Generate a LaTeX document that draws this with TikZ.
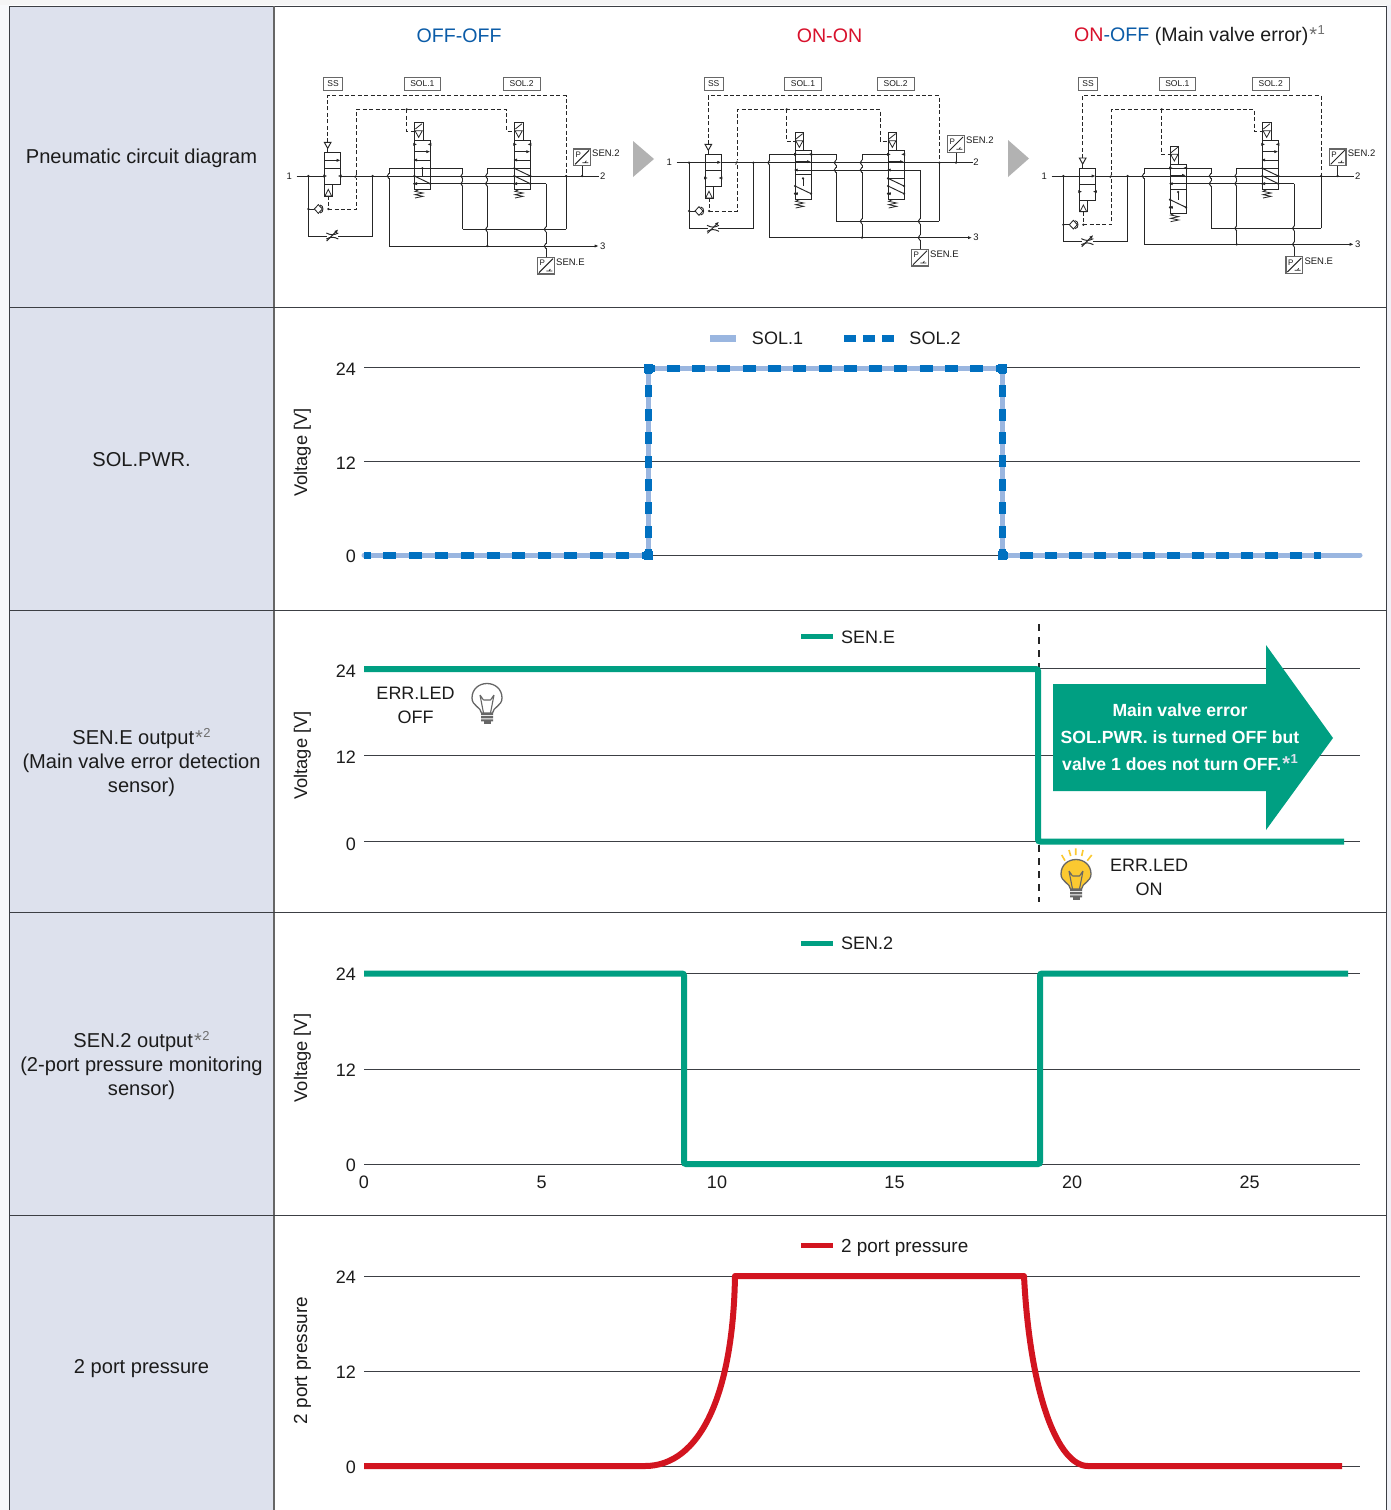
\documentclass[tikz,border=0pt]{standalone}
\usepackage{fontspec}
\setmainfont{Liberation Sans}
\usetikzlibrary{arrows.meta,calc}
\definecolor{hdr}{HTML}{DDE1ED}
\definecolor{txt}{HTML}{1C1C1C}
\definecolor{rule}{HTML}{3C3F44}
\definecolor{cblue}{HTML}{0B5CA8}
\definecolor{cred}{HTML}{D8112C}
\definecolor{astg}{HTML}{6E6E6E}
\definecolor{sola}{HTML}{9AB6E0}
\definecolor{solb}{HTML}{0070C0}
\definecolor{teal}{HTML}{009F82}
\definecolor{redl}{HTML}{D2141F}
\definecolor{pipec}{HTML}{262626}
\definecolor{bulbg}{HTML}{666666}
\definecolor{bulby}{HTML}{FBC931}
\tikzset{
  rowlab/.style={font=\fontsize{20.1}{24}\selectfont,text=txt,align=center,inner sep=0pt},
  ticklab/.style={font=\fontsize{18}{20}\selectfont,text=txt,inner sep=0pt},
  axlab/.style={font=\fontsize{18.3}{20}\selectfont,text=txt,inner sep=0pt,rotate=90},
  leglab/.style={font=\fontsize{18}{20}\selectfont,text=txt,inner sep=0pt},
  gridl/.style={draw=rule,line width=0.9pt},
  tline/.style={draw=rule,line width=1pt},
  pipe/.style={draw=pipec,line width=0.95pt},
  pdash/.style={draw=pipec,line width=1pt,dash pattern=on 4pt off 2.4pt},
  pbox/.style={draw=pipec!70,line width=0.9pt,font=\fontsize{8.5}{10}\selectfont,text=txt,inner sep=0pt,minimum height=12.6pt},
  psmall/.style={font=\fontsize{9.5}{11}\selectfont,text=txt,inner sep=0pt},
  ptip/.style={-{Latex[length=4pt,width=3.2pt]}},
  title/.style={font=\fontsize{19.6}{24}\selectfont,inner sep=0pt},
}
\newcommand{\astnote}[2][astg]{{\kern1pt\textcolor{#1}{\fontsize{20}{20}\selectfont *\kern0.5pt\raisebox{6.5pt}{\fontsize{13}{13}\selectfont #2}}}}
\newcommand{\Dot}[2]{\fill[pipec] (#1,#2) circle (1.25pt);}
% vertical-line hop: first wipe, later arc
\newcommand{\HopW}[2]{\draw[white,line width=2.2pt] (#1,#2-7) -- (#1,#2+7);}
\newcommand{\HopA}[2]{\draw[pipe] (#1,#2-8) .. controls (#1-7,#2-4) and (#1-7,#2+4) .. (#1,#2+8);}
\newcommand{\Sensor}[4]{%
  \draw[draw=bulbg,line width=1.2pt,fill=white] (#1,#2) rectangle (#1+50,#2+50);
  \draw[pipe] (#1+4,#2+46) -- (#1+46,#2+4);
  \draw[pipe,line width=0.7pt] (#1+26,#2+41) -- (#1+44,#2+41) (#1+34,#2+41) -- (#1+38,#2+35);
  \node[psmall,font=\fontsize{8}{9}\selectfont] (#4p) at (#1+14,#2+17) {P};
  \node[psmall,anchor=west] (#4l) at (#1+55,#2+14) {#3};}
% valve: x, top, kind (1 or 2), divider offset
\newcommand{\Valve}[4]{%
  \draw[pipe] (#1,#2) rectangle (#1+48,#2+148);
  \draw[pipe,line width=0.8pt] (#1,#2+#4) -- (#1+48,#2+#4);
  \draw[pipe,line width=0.8pt,ptip] (#1,#2+34) -- (#1+48,#2+34);
  \draw[pipe,line width=0.8pt,ptip] (#1+48,#2+59) -- (#1-4,#2+59);
  \draw[pipe,line width=0.7pt,ptip] (#1,#2+12) -- (#1+9,#2+12);
  \draw[pipe,line width=0.7pt,ptip] (#1+48,#2+12) -- (#1+39,#2+12);
  % solenoid
  \draw[pipe] (#1,#2-54) rectangle (#1+26,#2);
  \draw[pipe,line width=0.8pt] (#1+2,#2-29) -- (#1+24,#2-29) -- (#1+13,#2-9) -- cycle;
  \draw[pipe,line width=0.8pt] (#1+3,#2-34) -- (#1+23,#2-50);
  % spring
  \draw[pipe,line width=0.8pt] (#1+13,#2+148) -- (#1+2,#2+153) -- (#1+26,#2+158) -- (#1+2,#2+163) -- (#1+26,#2+168) -- (#1+2,#2+173);
  \Dot{#1}{#2+130}\Dot{#1+48}{#2+130}\Dot{#1}{#2+107}
  \draw[pipe,line width=0.7pt,ptip] (#1+8,#2+130) -- (#1-4,#2+130);
  \draw[pipe] (#1,#2+107) -- (#1+48,#2+130);
  \ifnum#3=1
    \draw[pipe] (#1+24,#2+84) -- (#1+24,#2+107);
    \Dot{#1+24}{#2+84}
  \else
    \draw[pipe] (#1,#2+84) -- (#1+48,#2+107);
    \Dot{#1}{#2+84}\Dot{#1+48}{#2+107}
  \fi}
\newcommand{\CircA}[9]{\def\cM{#1}\def\cA{#2}\def\cB{#3}\def\cL{#4}\def\cR{#5}\def\cSx{#6}\def\cST{#7}\def\cChk{#8}\def\cThr{#9}}
\newcommand{\CircB}[9]{\def\cI{#1}\def\cOR{#2}\def\cPa{#3}\def\cPb{#4}\def\cPc{#5}\def\cPd{#6}\def\cCr{#7}\def\cLo{#8}\def\cVa{#9}}
\newcommand{\CircC}[9]{\def\cTa{#1}\def\cVb{#2}\def\cTb{#3}\def\cEx{#4}\def\cEy{#5}\def\cNx{#6}\def\cNy{#7}\def\cBa{#8}\def\cBb{#9}\DrawCircuit}
\newcommand{\DrawCircuit}{%
  % labels
  \node[pbox,minimum width=19.3pt] (\cid ss) at (\cSx+26,71) {SS};
  \node[pbox,minimum width=36.6pt] (\cid sa) at (\cBa+55,71) {SOL.1};
  \node[pbox,minimum width=36.6pt] (\cid sb) at (\cBb+55,71) {SOL.2};
  \node[psmall] (\cid n1) at (28,\cM) {1};
  \node[psmall] (\cid n2) at (\cOR+110,\cM) {2};
  \node[psmall] (\cid n3) at (\cOR+110,\cLo) {3};
  % dashed pilots
  \draw[pdash] (\cSx+10,\cST-30) -- (\cSx+10,107) -- (\cOR,107) -- (\cOR,\cM);
  \draw[pdash] (\cSx+12,\cST+131) -- (\cSx+12,\cChk) -- (\cI,\cChk) -- (\cI,148) -- (\cVb-24,148) -- (\cVb-24,\cTb-28) -- (\cVb,\cTb-28);
  \draw[pdash] (380,148) -- (380,\cTa-28) -- (\cVa,\cTa-28);
  \Dot{380}{148}
  % vertical pipes
  \draw[pipe] (\cPa,\cLo) -- (\cPa,\cA);
  \draw[pipe] (\cPb,\cA) -- (\cPb,\cCr);
  \draw[pipe] (\cPc,\cLo) -- (\cPc,\cA);
  \draw[pipe] (\cPd,\cB) -- (\cPd,\cEy);
  \draw[pipe] (\cOR,\cCr) -- (\cOR,\cM);
  \draw[pipe] (\cL,\cM) -- (\cL,\cThr) -- (\cR,\cThr) -- (\cR,\cM);
  \HopW{\cPa}{\cM}\HopW{\cPb}{\cM}\HopW{\cPb}{\cB}\HopW{\cPc}{\cM}\HopW{\cPc}{\cB}\HopW{\cPc}{\cCr}\HopW{\cPd}{\cCr}\HopW{\cPd}{\cLo}\HopW{\cI}{\cM}
  % horizontal pipes
  \draw[pipe] (50,\cM) -- (\cOR+100,\cM);
  \draw[pipe] (\cPa,\cA) -- (\cPb,\cA);
  \draw[pipe] (\cPc,\cA) -- (\cVb,\cA);
  \draw[pipe] (\cVa,\cB) -- (\cPd,\cB);
  \draw[pipe] (\cPb,\cCr) -- (\cOR,\cCr);
  \draw[pipe,ptip] (\cPa,\cLo) -- (\cOR+98,\cLo);
  \HopA{\cPa}{\cM}\HopA{\cPb}{\cM}\HopA{\cPb}{\cB}\HopA{\cPc}{\cM}\HopA{\cPc}{\cB}\HopA{\cPc}{\cCr}\HopA{\cPd}{\cCr}\HopA{\cPd}{\cLo}
  \draw[pipe,line width=0.8pt] (\cI-5,\cM+6) -- (\cI,\cM-6);
  \Dot{\cL}{\cM}\Dot{\cR}{\cM}\Dot{\cL}{\cChk}\Dot{\cOR}{\cM}\Dot{\cNx+25}{\cM}\Dot{\cPc}{\cLo}
  % SS valve
  \draw[pipe,fill=white] (\cSx,\cST) rectangle (\cSx+49,\cST+97);
  \draw[pipe,line width=0.8pt] (\cSx,\cST+48) -- (\cSx+49,\cST+48);
  \draw[pipe,line width=0.8pt,ptip] (\cSx,\cST+24) -- (\cSx+49,\cST+24);
  \draw[pipe,line width=0.7pt,ptip] (\cSx,\cST+71) -- (\cSx+9,\cST+71);
  \draw[pipe,line width=0.7pt,ptip] (\cSx+49,\cST+71) -- (\cSx+40,\cST+71);
  \draw[pipe] (\cSx,\cST+97) rectangle (\cSx+24,\cST+131);
  \draw[pipe,line width=0.8pt] (\cSx+2,\cST+131) -- (\cSx+22,\cST+131) -- (\cSx+12,\cST+111) -- cycle;
  \draw[pipe,fill=white] (\cSx,\cST-30) -- (\cSx+20,\cST-30) -- (\cSx+10,\cST-12) -- cycle;
  \draw[pipe] (\cSx+10,\cST-12) -- (\cSx+10,\cST);
  % check valve
  \draw[pipe] (\cL,\cChk) -- (\cL+18,\cChk);
  \draw[pipe,fill=white,line width=0.85pt] (\cL+18,\cChk) -- (\cL+30,\cChk-13) -- (\cL+42,\cChk) -- (\cL+30,\cChk+13) -- cycle;
  \draw[pipe,line width=0.85pt] (\cL+35,\cChk-12) .. controls (\cL+47,\cChk-12) and (\cL+47,\cChk+12) .. (\cL+35,\cChk+12);
  \Dot{\cSx+12}{\cChk}
  % throttle
  \fill[white] (\cSx+8,\cThr-4) rectangle (\cSx+40,\cThr+4);
  \draw[pipe] (\cSx+6,\cThr-9) .. controls (\cSx+20,\cThr-2) and (\cSx+28,\cThr-2) .. (\cSx+42,\cThr-9);
  \draw[pipe] (\cSx+6,\cThr+9) .. controls (\cSx+20,\cThr+2) and (\cSx+28,\cThr+2) .. (\cSx+42,\cThr+9);
  \draw[pipe,ptip] (\cSx+7,\cThr+15) -- (\cSx+42,\cThr-20);
  % main valves
  \Valve{\cVa}{\cTa}{1}{\cDa}
  \Valve{\cVb}{\cTb}{2}{\cDb}
  % sensors
  \draw[pipe] (\cNx+25,\cNy+50) -- (\cNx+25,\cM);
  \Sensor{\cNx}{\cNy}{SEN.2}{\cid nn}
  \Sensor{\cEx}{\cEy}{SEN.E}{\cid ee}
}
\newcommand{\Grid}[5]{% y24 y12 y0 prefix label-offset
  \draw[gridl] (364,#1) -- (1360,#1);
  \draw[gridl] (364,#2) -- (1360,#2);
  \draw[gridl] (364,#3) -- (1360,#3);
  \node[ticklab,anchor=east] (#4t24) at (356,#1+#5) {24};
  \node[ticklab,anchor=east] (#4t12) at (356,#2+#5) {12};
  \node[ticklab,anchor=east] (#4t0) at (356,#3+#5) {0};}
\newcommand{\Bulb}[3]{% cx cy fill
  \begin{scope}[shift={(#1,#2)}]
    \draw[draw=bulbg,line width=1.3pt,fill=#3] (-5.5,14) .. controls (-6,8) and (-15,7) .. (-15,-1) .. controls (-15,-10) and (-8,-15.5) .. (0,-15.5) .. controls (8,-15.5) and (15,-10) .. (15,-1) .. controls (15,7) and (6,8) .. (5.5,14) -- cycle;
    \draw[draw=bulbg,line width=1.1pt] (-7,-4) -- (-3.5,14) (7,-4) -- (3.5,14) (-3.5,1) -- (3.5,1) (-7,-4) -- (-3.5,1) (7,-4) -- (3.5,1);
    \fill[bulbg] (-6,14) rectangle (6,16.2) (-6,17.2) rectangle (6,19.4) (-6,20.4) rectangle (6,22.4);
    \fill[bulbg] (-3.5,22.4) rectangle (3.5,24.6);
  \end{scope}}
\begin{document}
\begin{tikzpicture}[x=1pt,y=-1pt]
\useasboundingbox (0,0) rectangle (1391,1510);
\fill[white] (0,0) rectangle (1391,1510);
\fill[hdr!20] (0,0) rectangle (9,1510);
\fill[hdr!45] (1386,0) rectangle (1391,1510);
\fill[white!92!gray] (0,0) rectangle (1391,5);
% table
\fill[hdr] (9,6) rectangle (274,1510);
\draw[tline] (9,1510) -- (9,6) -- (1386,6) -- (1386,1510);
\draw[draw=bulbg,line width=1.4pt] (274,6) -- (274,1510);
\foreach \yy in {307.5,610,912.5,1215} \draw[tline] (9,\yy) -- (1386,\yy);
% row labels
\node[rowlab] (r1) at (141.5,158.5) {Pneumatic circuit diagram};
\node[rowlab] (r2) at (141.5,460) {SOL.PWR.};
\node[rowlab] (r3) at (141.5,762.5) {SEN.E output\astnote{2}\\(Main valve error detection\\sensor)};
\node[rowlab] (r4) at (141.5,1065.5) {SEN.2 output\astnote{2}\\(2-port pressure monitoring\\sensor)};
\node[rowlab] (r5) at (141.5,1368.5) {2 port pressure};
% titles
\node[title,text=cblue] (t1) at (459,35.5) {OFF-OFF};
\node[title,text=cred] (t2) at (829.5,35.5) {ON-ON};
\node[title,text=txt,anchor=west] (t3) at (1074,35.5) {\textcolor{cred}{ON}\textcolor{cblue}{-OFF} (Main valve error)\astnote{1}};
% circuits
\begin{scope}[shift={(280,60)},x=0.33333pt,y=-0.33333pt]
  \def\cid{a}\def\cDa{84}\def\cDb{84}
  \CircA{348}{325}{371}{85}{278}{133}{277}{447}{528}
  \CircB{230}{858}{327}{548}{622}{798}{508}{558}{403}
  \CircC{241}{703}{241}{773}{592}{881}{267}{372}{670}
\end{scope}
\begin{scope}[shift={(660,60)},x=0.33333pt,y=-0.33333pt]
  \def\cid{b}\def\cDa{72}\def\cDb{84}
  \CircA{308}{283}{330}{87}{280}{135}{283}{453}{505}
  \CircB{232}{838}{329}{528}{606}{780}{484}{533}{405}
  \CircC{271}{684}{271}{755}{568}{863}{227}{374}{652}
\end{scope}
\begin{scope}[shift={(1035,60)},x=0.33333pt,y=-0.33333pt]
  \def\cid{c}\def\cDa{76}\def\cDb{84}
  \CircA{348}{325}{371}{85}{278}{133}{324}{494}{545}
  \CircB{230}{858}{327}{528}{605}{778}{505}{553}{405}
  \CircC{312}{682}{241}{753}{590}{883}{267}{372}{652}
\end{scope}
\fill[gray!60] (633,141) -- (654,159) -- (633,177) -- cycle;
\fill[gray!60] (1008,140) -- (1029,158.5) -- (1008,177) -- cycle;
% chart 1
\Grid{367.5}{461.5}{555}{g1}{1.5}
\node[axlab] (a1) at (302.5,452.5) {Voltage [V]};
\draw[sola,line width=7pt] (710,338) -- (736,338);
\node[leglab] (l1a) at (777.5,338) {SOL.1};
\draw[solb,line width=7pt,dash pattern=on 12pt off 7pt] (844,338) -- (894,338);
\node[leglab] (l1b) at (935,338) {SOL.2};
\draw[sola,line width=5pt,line cap=round,line join=round] (364,555) -- (648,555) -- (648,368) -- (1002,368) -- (1002,555) -- (1360,555);
\begin{scope}[solb,line width=7pt]
  \draw[dash pattern=on 13pt off 12.82pt,dash phase=6.5pt] (364,555) -- (648,555);
  \draw[dash pattern=on 12pt off 11.37pt,dash phase=6pt] (648,555) -- (648,368);
  \draw[dash pattern=on 13pt off 12.29pt,dash phase=6.5pt] (648,368) -- (1002,368);
  \draw[dash pattern=on 12pt off 11.37pt,dash phase=6pt] (1002,368) -- (1002,555);
  \draw[dash pattern=on 12.5pt off 12pt,dash phase=6.5pt] (1002,555) -- (1321,555);
\end{scope}
\foreach \cxx/\cyy in {648/368,1002/368,648/555,1002/555}
  \fill[solb] (\cxx-4.5,\cyy-4.5) rectangle (\cxx+4.5,\cyy+4.5);
% chart 2
\Grid{668.5}{755}{841.5}{g2}{2.5}
\node[axlab] (a2) at (302.5,755.5) {Voltage [V]};
\draw[teal,line width=5pt] (801,636) -- (833,636);
\node[leglab,anchor=west] (l2) at (841,637) {SEN.E};
\draw[pipec,line width=1.6pt,dash pattern=on 7pt off 6pt] (1039,624) -- (1039,902);
\draw[teal,line width=6pt,rounded corners=2pt] (364,669) -- (1038,669) -- (1038,841.5) -- (1344,841.5);
\fill[teal] (1053,684) -- (1266,684) -- (1266,645) -- (1333,738) -- (1266,830) -- (1266,791) -- (1053,791) -- cycle;
\node[font=\bfseries\fontsize{17.6}{27}\selectfont,text=white,align=center,inner sep=0pt] (msg) at (1180,737) {Main valve error\\SOL.PWR. is turned OFF but\\valve 1 does not turn OFF.\astnote[hdr]{1}};
\node[rowlab,font=\fontsize{18}{24}\selectfont] (eoff) at (415.5,705) {ERR.LED\\OFF};
\Bulb{487}{699}{white}
\node[rowlab,font=\fontsize{18}{24}\selectfont] (eon) at (1149,877) {ERR.LED\\ON};
\Bulb{1076}{875}{bulby}
\draw[bulby,line width=1.6pt] (1061.7,855) -- (1065,860.7) (1069,850) -- (1070.7,856) (1075.7,848.3) -- (1075.7,855) (1083,850) -- (1081.7,856) (1091.7,855) -- (1087.3,860.7);
% chart 3
\Grid{973.5}{1069}{1164}{g3}{1}
\node[axlab] (a3) at (302.5,1058) {Voltage [V]};
\draw[teal,line width=5pt] (801,943) -- (833,943);
\node[leglab,anchor=west] (l3) at (841,943) {SEN.2};
\draw[teal,line width=6pt,rounded corners=2pt] (364,973.5) -- (684,973.5) -- (684,1164) -- (1040,1164) -- (1040,973.5) -- (1348,973.5);
\node[ticklab] (x0) at (364,1182) {0};
\node[ticklab] (x5) at (541.5,1182) {5};
\node[ticklab] (x10) at (717,1182) {10};
\node[ticklab] (x15) at (894.5,1182) {15};
\node[ticklab] (x20) at (1072,1182) {20};
\node[ticklab] (x25) at (1249.5,1182) {25};
% chart 4
\Grid{1276}{1371}{1466}{g4}{1}
\node[axlab,font=\fontsize{18.9}{20}\selectfont] (a4) at (302.5,1360.5) {2 port pressure};
\draw[redl,line width=5pt] (801,1245.5) -- (833,1245.5);
\node[leglab,anchor=west,font=\fontsize{18.9}{20}\selectfont] (l4) at (841,1248) {2 port pressure};
\draw[redl,line width=6pt,line join=round] (364,1466) -- (645,1466) .. controls (700,1466) and (733,1395) .. (735,1276) -- (1024,1276) .. controls (1030,1395) and (1058,1466) .. (1088,1466) -- (1342,1466);
\end{tikzpicture}
\end{document}
